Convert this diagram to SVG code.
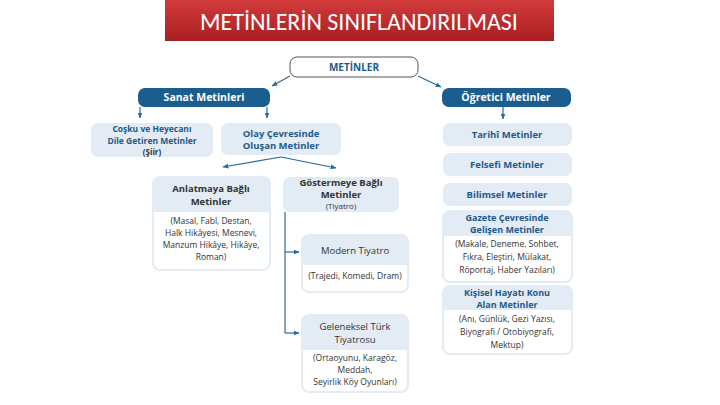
<svg xmlns="http://www.w3.org/2000/svg" width="720" height="405" viewBox="0 0 720 405">
<defs>
<linearGradient id="rg" x1="0" y1="0" x2="0" y2="1"><stop offset="0" stop-color="#d23b3b"/><stop offset="1" stop-color="#a81f22"/></linearGradient>
<marker id="ar" viewBox="0 0 10 10" refX="9" refY="5" markerWidth="5" markerHeight="5" orient="auto"><path d="M0,1 L10,5 L0,9 Z" fill="#2a6a9a"/></marker>
<style>
text{font-family:"Open Sans","Liberation Sans",sans-serif;text-anchor:middle;fill:#222}
.t{font-size:9.5px;font-weight:bold;fill:#1d5a8c}
.s{font-size:9px}
.x{font-size:8.5px}
.k{font-size:9.5px;font-weight:bold;fill:#333}
.b{font-size:8.5px;fill:#333}
.w{font-size:10.5px;font-weight:bold;fill:#fff}
.lt{fill:#e3ebf4}
.card{fill:#fff;stroke:#e3ebf4;stroke-width:2}
.dk{fill:#1c5d8f}
.ln{stroke:#2a6a9a;stroke-width:1.2;fill:none}
</style>
</defs>
<g id="title"><rect x="165" y="0" width="389" height="41" fill="url(#rg)"/><text x="359" y="30" style="font-size:24px;fill:#fff;font-family:Calibri,'Open Sans','Liberation Sans',sans-serif">METİNLERİN SINIFLANDIRILMASI</text></g>
<g id="connectors">
<line class="ln" x1="290" y1="76" x2="272" y2="86" marker-end="url(#ar)"/>
<line class="ln" x1="418" y1="76" x2="441" y2="87" marker-end="url(#ar)"/>
<line class="ln" x1="140" y1="107" x2="140" y2="118" marker-end="url(#ar)"/>
<line class="ln" x1="267" y1="107" x2="267" y2="118" marker-end="url(#ar)"/>
<line class="ln" x1="503" y1="107" x2="503" y2="119" marker-end="url(#ar)"/>
<line class="ln" x1="281" y1="157" x2="223" y2="167" marker-end="url(#ar)"/>
<line class="ln" x1="281" y1="157" x2="336" y2="168" marker-end="url(#ar)"/>
<polyline class="ln" points="285,212 285,333"/>
<line class="ln" x1="285" y1="252" x2="299" y2="252" marker-end="url(#ar)"/>
<line class="ln" x1="285" y1="333" x2="299" y2="333" marker-end="url(#ar)"/>
</g>
<g id="metinler"><rect x="290" y="57" width="128" height="20" rx="7" fill="#fff" stroke="#555" stroke-width="1"/><text class="t" x="354" y="71" style="font-size:10px">METİNLER</text></g>
<g id="sanat"><rect class="dk" x="138" y="88" width="132" height="19" rx="7"/><text class="w" x="204" y="101">Sanat Metinleri</text></g>
<g id="ogretici"><rect class="dk" x="442" y="88" width="129" height="19" rx="7"/><text class="w" x="506" y="101">Öğretici Metinler</text></g>
<g id="cosku"><rect class="lt" x="91" y="123" width="122" height="34" rx="7"/><text class="t x" x="152" y="132">Coşku ve Heyecanı</text><text class="t x" x="152" y="143.5">Dile Getiren Metinler</text><text class="k" x="152" y="155" style="font-size:8px">(Şiir)</text></g>
<g id="olay"><rect class="lt" x="221" y="123" width="120" height="32" rx="7"/><text class="t" x="281" y="137">Olay Çevresinde</text><text class="t" x="281" y="149">Oluşan Metinler</text></g>
<g id="anlatmaya"><rect class="card" x="153" y="177" width="117" height="93" rx="7"/><path class="lt" d="M153,212 V184 a7,7 0 0 1 7,-7 H263 a7,7 0 0 1 7,7 V212 Z"/><text class="k" x="211" y="192">Anlatmaya Bağlı</text><text class="k" x="211" y="205">Metinler</text><text class="b" x="211" y="224">(Masal, Fabl, Destan,</text><text class="b" x="211" y="236">Halk Hikâyesi, Mesnevi,</text><text class="b" x="211" y="248">Manzum Hikâye, Hikâye,</text><text class="b" x="211" y="260">Roman)</text></g>
<g id="gostermeye"><rect class="lt" x="283" y="177" width="116" height="35" rx="7"/><text class="k x" x="341" y="186">Göstermeye Bağlı</text><text class="k x" x="341" y="197.5">Metinler</text><text class="b" x="341" y="209" style="font-size:8px">(Tiyatro)</text></g>
<g id="modern"><rect class="card" x="302" y="235" width="106" height="57" rx="7"/><path class="lt" d="M302,265 V242 a7,7 0 0 1 7,-7 H401 a7,7 0 0 1 7,7 V265 Z"/><text class="b" x="355" y="254" style="font-size:9.5px">Modern Tiyatro</text><text class="b" x="355" y="279">(Trajedi, Komedi, Dram)</text></g>
<g id="geleneksel"><rect class="card" x="302" y="315" width="106" height="77" rx="7"/><path class="lt" d="M302,350 V322 a7,7 0 0 1 7,-7 H401 a7,7 0 0 1 7,7 V350 Z"/><text class="b" x="355" y="330" style="font-size:9.5px">Geleneksel Türk</text><text class="b" x="355" y="343" style="font-size:9.5px">Tiyatrosu</text><text class="b" x="355" y="361">(Ortaoyunu, Karagöz,</text><text class="b" x="355" y="373">Meddah,</text><text class="b" x="355" y="385">Seyirlik Köy Oyunları)</text></g>
<g id="tarihi"><rect class="lt" x="443" y="123" width="129" height="23" rx="7"/><text class="t" x="507" y="138">Tarihî Metinler</text></g>
<g id="felsefi"><rect class="lt" x="443" y="153" width="129" height="23" rx="7"/><text class="t" x="507" y="168">Felsefi Metinler</text></g>
<g id="bilimsel"><rect class="lt" x="443" y="183" width="129" height="23" rx="7"/><text class="t" x="507" y="198">Bilimsel Metinler</text></g>
<g id="gazete"><rect class="card" x="443" y="211" width="129" height="71" rx="7"/><path class="lt" d="M443,236 V218 a7,7 0 0 1 7,-7 H565 a7,7 0 0 1 7,7 V236 Z"/><text class="t s" x="507" y="221">Gazete Çevresinde</text><text class="t s" x="507" y="233">Gelişen Metinler</text><text class="b" x="507" y="247">(Makale, Deneme, Sohbet,</text><text class="b" x="507" y="260">Fıkra, Eleştiri, Mülakat,</text><text class="b" x="507" y="273">Röportaj, Haber Yazıları)</text></g>
<g id="kisisel"><rect class="card" x="443" y="286" width="129" height="68" rx="7"/><path class="lt" d="M443,310 V293 a7,7 0 0 1 7,-7 H565 a7,7 0 0 1 7,7 V310 Z"/><text class="t s" x="507" y="296">Kişisel Hayatı Konu</text><text class="t s" x="507" y="308">Alan Metinler</text><text class="b" x="507" y="322">(Anı, Günlük, Gezi Yazısı,</text><text class="b" x="507" y="335">Biyografi / Otobiyografi,</text><text class="b" x="507" y="348">Mektup)</text></g>
</svg>
